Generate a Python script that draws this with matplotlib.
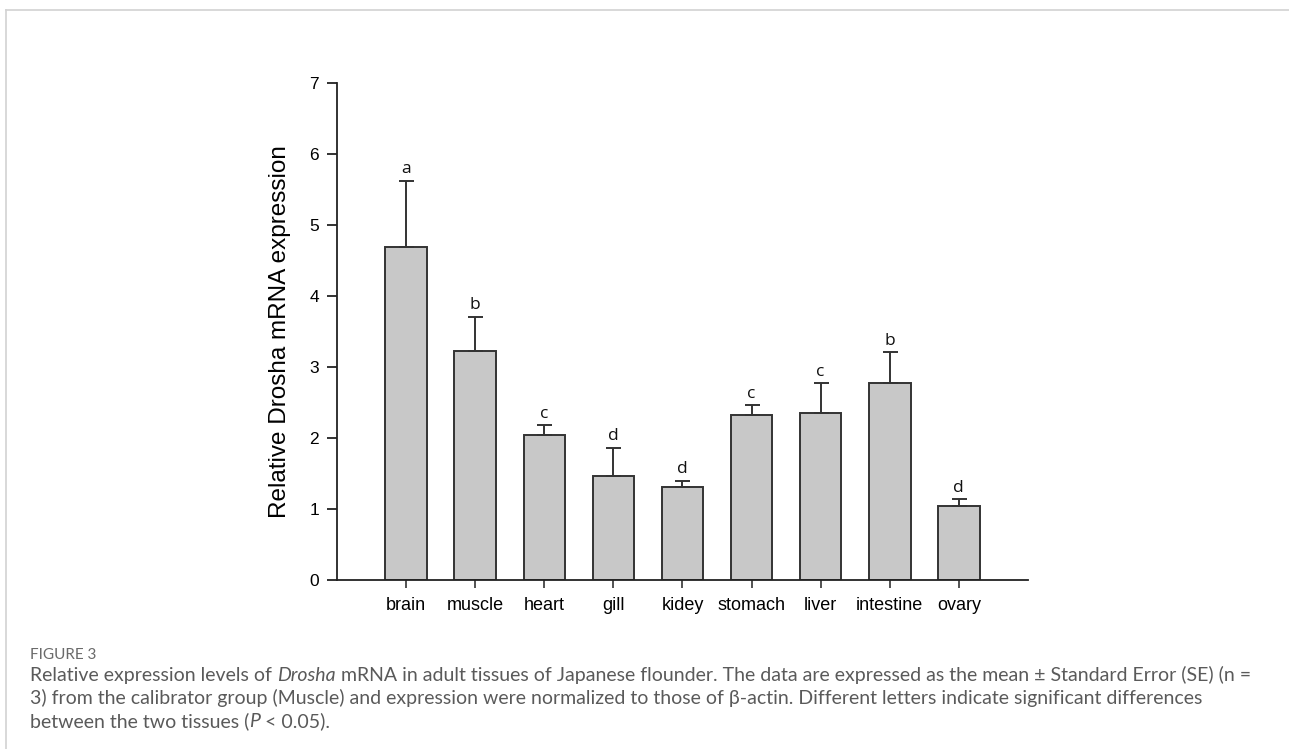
import matplotlib
matplotlib.use("Agg")
import matplotlib.pyplot as plt
from matplotlib.lines import Line2D

# tissue panel: relative Drosha mRNA expression (mean + SE)
tissues = ["brain", "muscle", "heart", "gill", "kidey", "stomach", "liver", "intestine", "ovary"]
expression = [4.69, 3.23, 2.04, 1.46, 1.31, 2.32, 2.35, 2.77, 1.04]
std_err = [0.93, 0.48, 0.14, 0.40, 0.09, 0.14, 0.42, 0.44, 0.10]
sig_letters = ["a", "b", "c", "d", "d", "c", "c", "b", "d"]

AXIS_FONT = "Liberation Sans"
CAP_FONT = ["Lato", "DejaVu Sans"]
CAP_COLOR = "#5a5a5a"

fig = plt.figure(figsize=(12.89, 7.49), dpi=100)
fig.patch.set_facecolor("white")

ax = fig.add_axes([0.2614, 0.2256, 0.5361, 0.6636])
x = list(range(len(tissues)))
ax.bar(x, expression, width=0.6, color="#c8c8c8", edgecolor="#333333",
       linewidth=1.4, zorder=2)
ax.errorbar(x, expression, yerr=[[0] * len(x), std_err], fmt="none",
            ecolor="#333333", elinewidth=1.4, capsize=5.4, capthick=1.4, zorder=3)

for xi, m, e, s in zip(x, expression, std_err, sig_letters):
    ax.text(xi, m + e + 0.05, s, ha="center", va="bottom",
            fontsize=12.5, family="Open Sans", color="#111111")

ax.set_xlim(-1, 9)
ax.set_ylim(0, 7)
ax.set_yticks(range(0, 8))
ax.set_xticks(x)
ax.set_xticklabels(tissues)
for sp in ("top", "right"):
    ax.spines[sp].set_visible(False)
for sp in ("left", "bottom"):
    ax.spines[sp].set_linewidth(1.3)
    ax.spines[sp].set_color("#222222")
ax.tick_params(axis="y", direction="out", length=7, width=1.3, pad=6,
               labelsize=12.5, color="#222222")
ax.tick_params(axis="x", direction="out", length=6, width=1.3, pad=6,
               labelsize=13, color="#444444")
for lab in ax.get_xticklabels() + ax.get_yticklabels():
    lab.set_family(AXIS_FONT)
ax.set_ylabel("Relative Drosha mRNA expression", family=AXIS_FONT,
              fontsize=17.5, labelpad=13)

# open card border (top and left edges only)
fig.add_artist(Line2D([6 / 1289, 1], [1 - 10 / 749, 1 - 10 / 749],
                      color="#d2d2d2", lw=1.2))
fig.add_artist(Line2D([6 / 1289, 6 / 1289], [0, 1 - 10 / 749],
                      color="#d2d2d2", lw=1.2))

# caption
renderer = fig.canvas.get_renderer()


def rich_line(x0, y0, parts, size):
    """Draw (text, italic) segments one after another on a single line."""
    xc = x0
    for txt, italic in parts:
        t = fig.text(xc, y0, txt, fontsize=size, family=CAP_FONT,
                     style="italic" if italic else "normal",
                     color=CAP_COLOR, ha="left", va="baseline")
        bb = t.get_window_extent(renderer=renderer)
        xc += bb.width / fig.bbox.width


fig.text(30 / 1289, 1 - 659 / 749, "FIGURE 3", fontsize=11, family=CAP_FONT,
         color="#6a6a6a", ha="left", va="baseline")
cap_size = 14
rich_line(30 / 1289, 1 - 681 / 749, [
    ("Relative expression levels of ", False), ("Drosha", True),
    (" mRNA in adult tissues of Japanese flounder. The data are expressed as the mean ± Standard Error (SE) (n =", False),
], cap_size)
rich_line(30 / 1289, 1 - 704 / 749, [
    ("3) from the calibrator group (Muscle) and expression were normalized to those of β-actin. Different letters indicate significant differences", False),
], cap_size)
rich_line(30 / 1289, 1 - 727 / 749, [
    ("between the two tissues (", False), ("P", True), (" < 0.05).", False),
], cap_size)

fig.savefig("out.png", dpi=100, facecolor="white")
